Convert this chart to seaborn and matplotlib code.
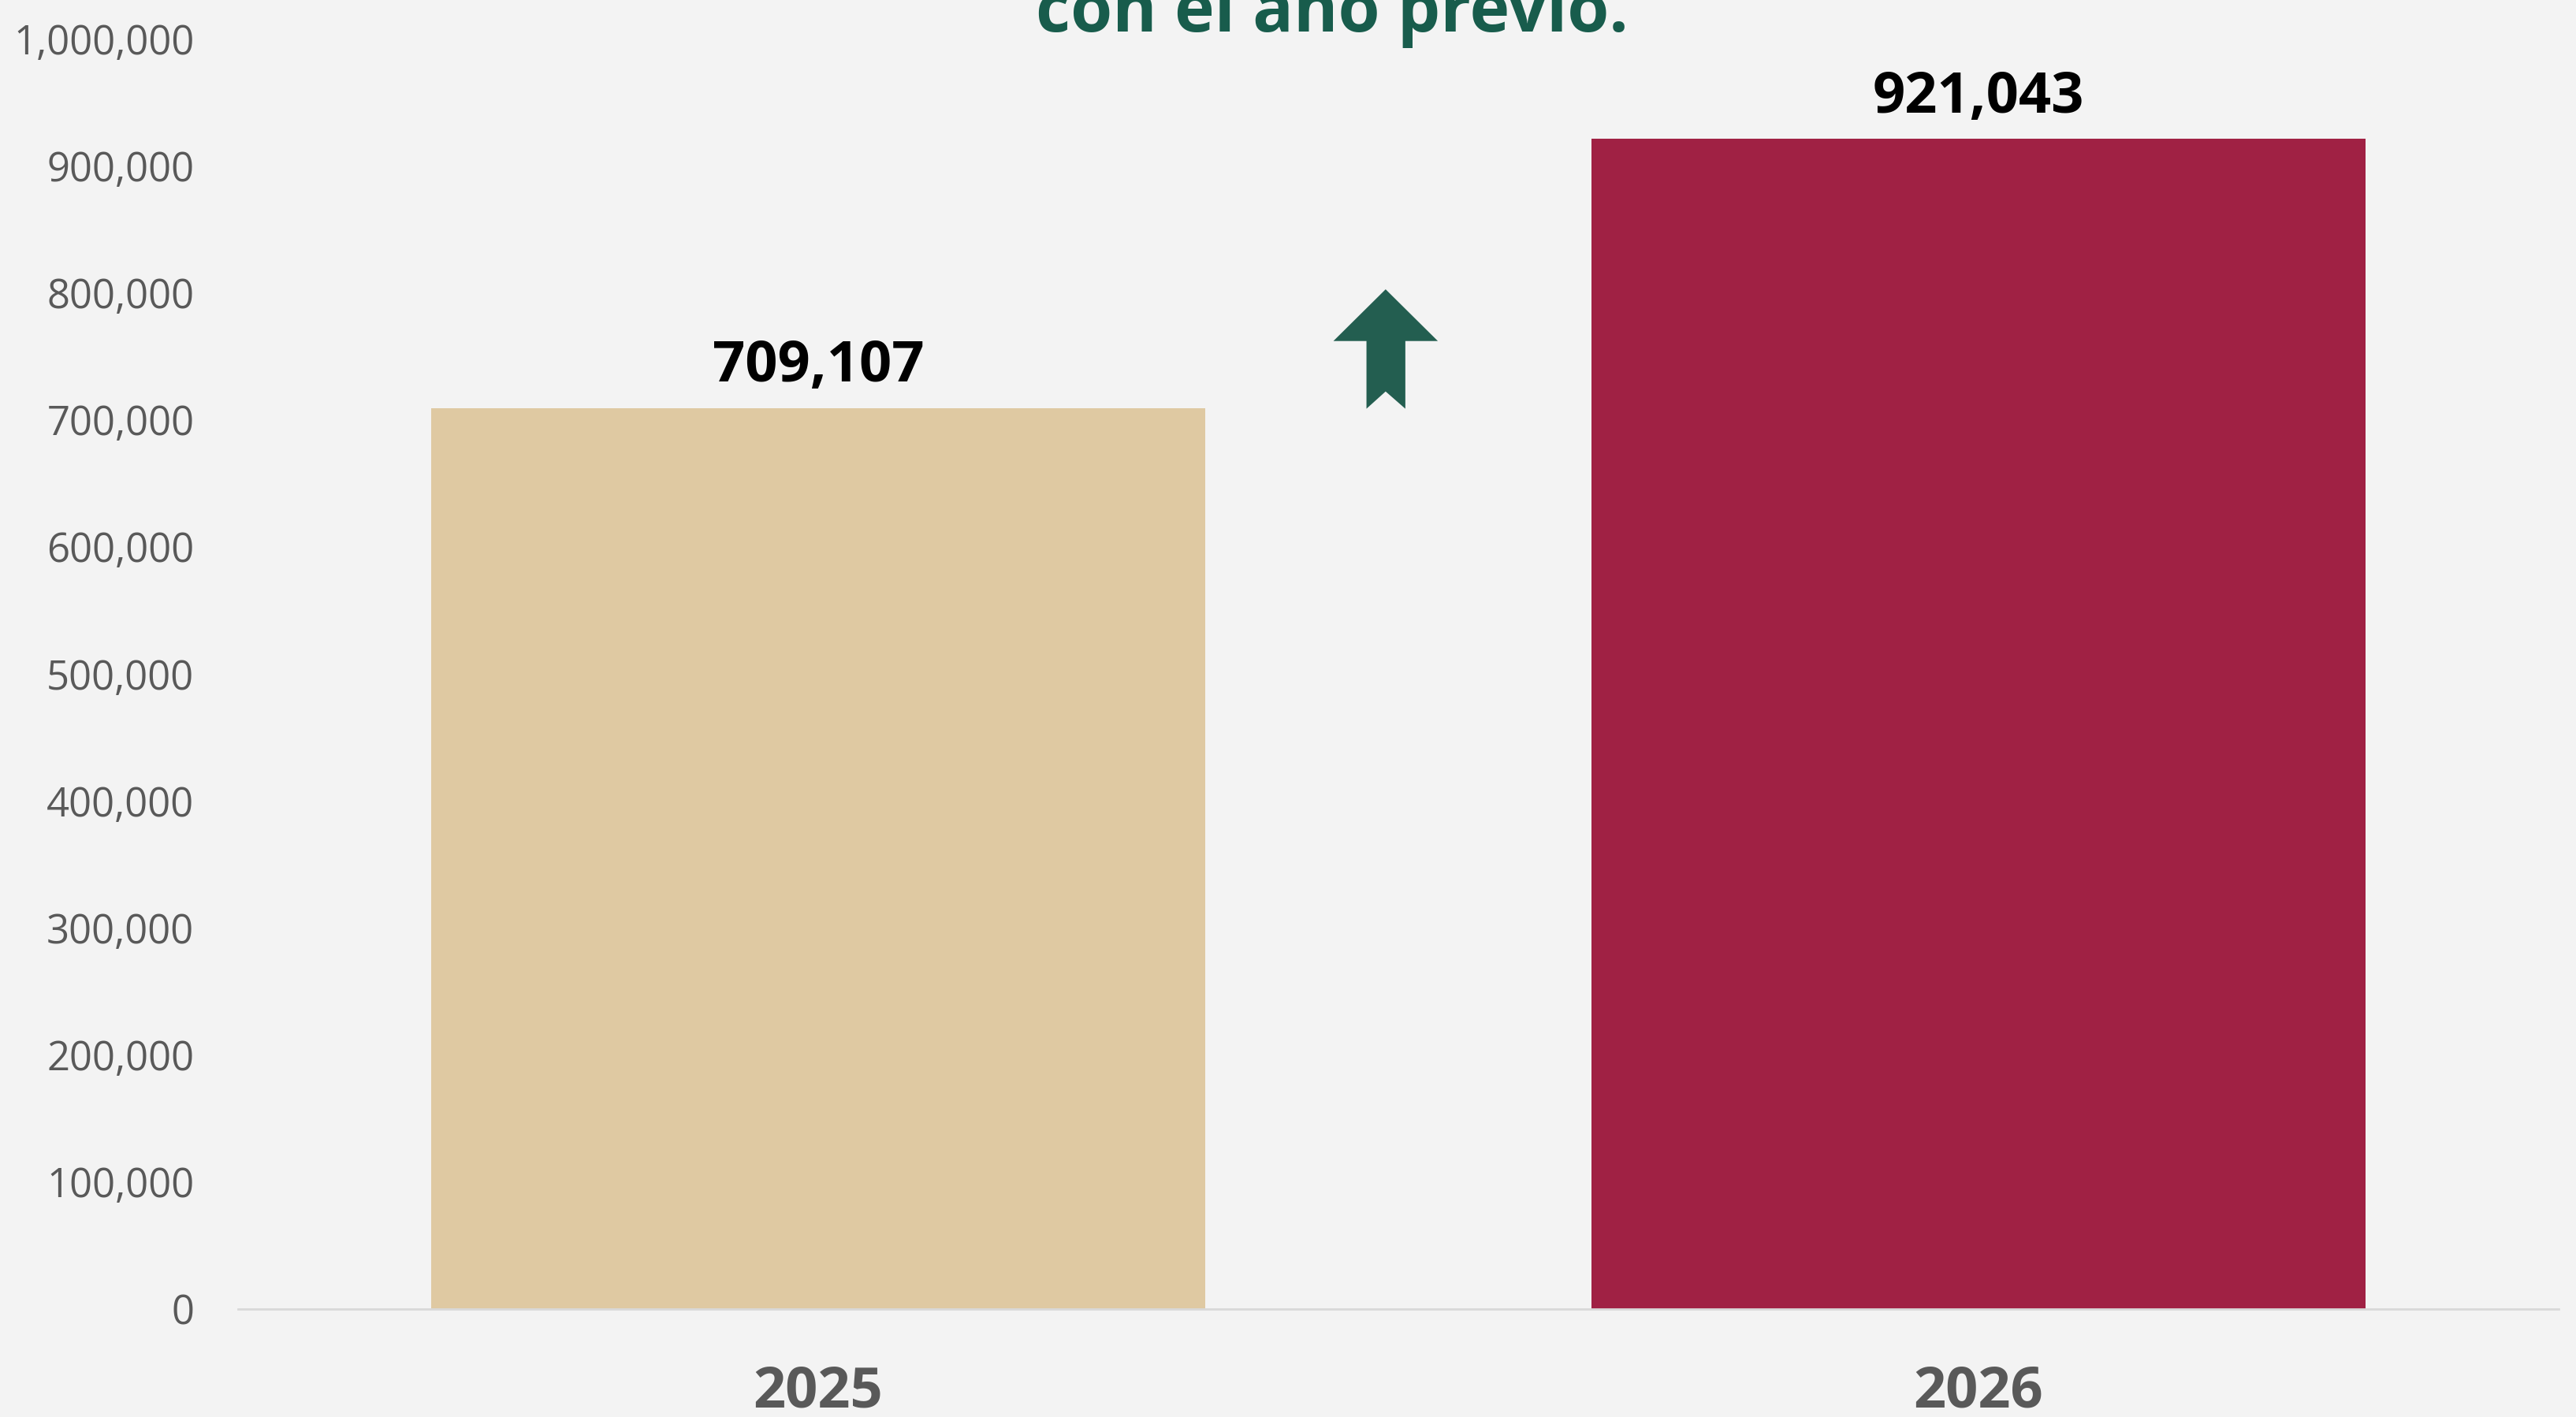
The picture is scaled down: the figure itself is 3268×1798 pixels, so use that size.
import pandas as pd
import matplotlib.pyplot as plt
import seaborn as sns
from matplotlib.patches import Polygon
from matplotlib.ticker import FuncFormatter

# data
years = ['2025', '2026']
totals = [709107, 921043]
bar_colors = ['#dfc9a2', '#a02144']
y_ticks = [0, 100000, 200000, 300000, 400000, 500000, 600000, 700000, 800000, 900000, 1000000]
title_line = 'con el año previo.'

df = pd.DataFrame({'year': years, 'total': totals})

sns.set_theme(style='white')
plt.rcParams['font.family'] = ['Open Sans', 'DejaVu Sans']

bg = '#f3f3f3'
fig = plt.figure(figsize=(16.34, 8.99), dpi=200, facecolor=bg)
ax = fig.add_axes([0.0924, 0.0762, 0.9009, 0.8965])
ax.set_facecolor(bg)

sns.barplot(data=df, x='year', y='total', hue='year', palette=bar_colors,
            width=0.667, legend=False, ax=ax, saturation=1, linewidth=0)

ax.set_ylim(0, 1000000)
ax.set_xlim(-0.5, 1.5)
ax.set_yticks(y_ticks)
ax.yaxis.set_major_formatter(FuncFormatter(lambda v, p: f'{v:,.0f}'))
ax.set_xlabel('')
ax.set_ylabel('')

for s in ['top', 'right', 'left']:
    ax.spines[s].set_visible(False)
ax.spines['bottom'].set_color('#d9d9d9')
ax.spines['bottom'].set_linewidth(1.0)

ax.tick_params(axis='y', length=0, pad=20, labelsize=18.3, labelcolor='#595959')
ax.tick_params(axis='x', length=0, pad=25, labelsize=26, labelcolor='#595959')
for t in ax.get_xticklabels():
    t.set_fontweight('bold')

for c in ax.containers:
    ax.bar_label(c, fmt='{:,.0f}', padding=6, fontsize=26, fontweight='bold', color='black')

# green up arrow between the bars
arrow = Polygon([(0.489, 802700), (0.534, 762000), (0.506, 762000), (0.506, 708700),
                 (0.489, 722300), (0.4725, 708700), (0.4725, 762000), (0.444, 762000)],
                closed=True, facecolor='#235e50', edgecolor='none', zorder=5)
ax.add_patch(arrow)

# title (top part cut off like the original)
fig.text(0.517, 1 - 40 / 1798, title_line, ha='center', va='baseline',
         fontsize=30.9, fontweight='bold', color='#185c4c')

plt.savefig('out.png', dpi=200, facecolor=bg)
